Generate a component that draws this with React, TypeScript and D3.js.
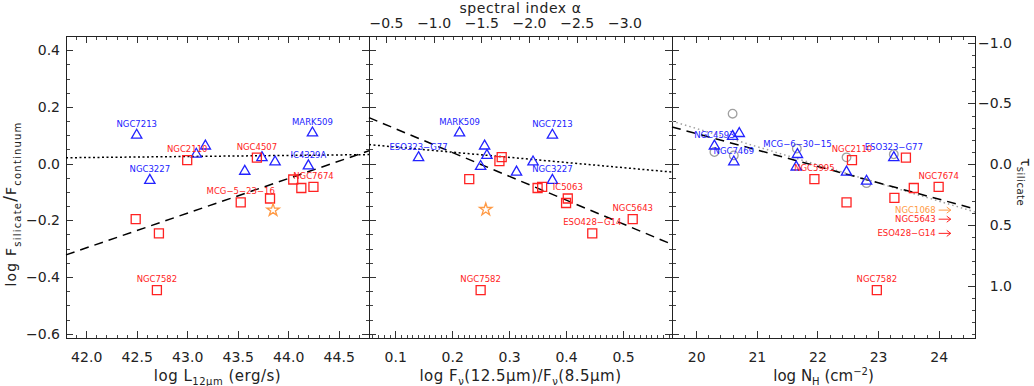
import React, { useRef, useEffect } from "react";
import * as d3 from "d3";

// tick labels
const fluxTicks = [-0.6, -0.4, -0.2, 0.0, 0.2, 0.4];
const tauTicks = [-1.0, -0.5, 0.0, 0.5, 1.0];
const lumTicks = [42.0, 42.5, 43.0, 43.5, 44.0, 44.5];
const ratioTicks = [0.1, 0.2, 0.3, 0.4, 0.5];
const alphaTicks = [-0.5, -1.0, -1.5, -2.0, -2.5, -3.0];
const nhTicks = [20, 21, 22, 23, 24];

type Pt = [number, number, string];

// panel 1: log L12um vs log Fsil/Fcont
const lumSy2: Pt[] = [
  [43.0, 0.012, "NGC2110"],
  [43.69, 0.021, "NGC4507"],
  [44.05, -0.056, ""],
  [44.13, -0.086, ""],
  [44.25, -0.082, "NGC7674"],
  [43.53, -0.137, "MCG-5-23-16"],
  [43.82, -0.123, ""],
  [42.49, -0.196, ""],
  [42.72, -0.246, ""],
  [42.7, -0.446, "NGC7582"],
];
const lumSy1: Pt[] = [
  [42.5, 0.1, "NGC7213"],
  [43.09, 0.033, ""],
  [43.18, 0.062, ""],
  [42.63, -0.059, "NGC3227"],
  [43.57, -0.027, ""],
  [43.74, 0.021, ""],
  [43.87, 0.006, ""],
  [44.24, 0.108, "MARK509"],
  [44.2, -0.008, "IC4329A"],
];
const lumStar: Pt[] = [[43.85, -0.164, ""]];
// fits: [intercept, slope]
const lumDashed = [-5.434, 0.1223];
const lumDotted = [-0.134, 0.0037];

// panel 2: log Fnu(12.5)/Fnu(8.5)
const ratioSy2: Pt[] = [
  [0.287, 0.023, ""],
  [0.283, 0.009, ""],
  [0.23, -0.055, ""],
  [0.35, -0.086, ""],
  [0.358, -0.082, ""],
  [0.403, -0.123, "IC5063"],
  [0.4, -0.139, ""],
  [0.517, -0.196, "NGC5643"],
  [0.446, -0.246, "ESO428-G14"],
  [0.25, -0.446, "NGC7582"],
];
const ratioSy1: Pt[] = [
  [0.213, 0.108, "MARK509"],
  [0.376, 0.1, "NGC7213"],
  [0.141, 0.021, "ESO323-G77"],
  [0.257, 0.062, ""],
  [0.261, 0.029, ""],
  [0.25, -0.01, ""],
  [0.313, -0.03, ""],
  [0.342, 0.006, ""],
  [0.376, -0.059, "NGC3227"],
];
const ratioStar: Pt[] = [[0.259, -0.162, ""]];
const ratioDashed = [0.2074, -0.84];
const ratioDotted = [0.0768, -0.182];

// panel 3: log NH
const nhSy2: Pt[] = [
  [22.57, 0.012, "NGC2110"],
  [23.46, 0.021, ""],
  [21.95, -0.055, "NGC5995"],
  [24.0, -0.082, "NGC7674"],
  [23.59, -0.086, ""],
  [23.27, -0.121, ""],
  [22.48, -0.137, ""],
  [22.98, -0.446, "NGC7582"],
];
const nhSy1: Pt[] = [
  [20.6, 0.096, ""],
  [20.71, 0.106, ""],
  [20.3, 0.062, "NGC4593"],
  [20.62, 0.006, "NGC7469"],
  [21.67, 0.032, "MCG-6-30-15"],
  [21.65, -0.012, ""],
  [22.48, -0.03, ""],
  [22.81, -0.062, ""],
  [23.26, 0.021, "ESO323-G77"],
];
const nhAlt: Pt[] = [
  [20.6, 0.176, ""],
  [20.3, 0.041, ""],
  [20.62, 0.029, ""],
  [21.66, 0.053, ""],
  [22.48, 0.022, ""],
  [23.26, 0.033, ""],
  [22.81, -0.069, ""],
];
// lower limits in NH: [name, x, y, kind]
const nhLimits: [string, number, number, string][] = [
  ["NGC1068", 24.0, -0.164, "star"],
  ["NGC5643", 24.0, -0.196, "sy2"],
  ["ESO428-G14", 24.0, -0.246, "sy2"],
];
const nhDashed = [1.262, -0.0578];
const nhDotted = [1.404, -0.064];

const RED = "#ff2222";
const BLUE = "#2222ff";
const ORANGE = "#ff9a45";
const GRAY = "#a0a0a0";
const INK = "#222";
const FONT = "DejaVu Sans";

export default function App() {
  const ref = useRef<SVGGElement>(null);

  useEffect(() => {
    const root = d3.select(ref.current);
    root.selectAll("*").remove();

    const top = 36, bottom = 338;
    const edges = [66, 369, 672, 975];
    const y = d3.scaleLinear().domain([-0.615, 0.45]).range([bottom, top]);
    const tau = d3.scaleLinear().domain([-1.055, 1.43]).range([top, bottom]);
    const xL = d3.scaleLinear().domain([41.8, 44.8]).range([edges[0], edges[1]]);
    const xR = d3.scaleLinear().domain([0.054, 0.586]).range([edges[1], edges[2]]);
    const kA = Math.log10(12.5 / 8.5);
    const xA = d3.scaleLinear().domain([-0.054 / kA, -0.586 / kA]).range([edges[1], edges[2]]);
    const xN = d3.scaleLinear().domain([19.6, 24.6]).range([edges[2], edges[3]]);

    const f1 = d3.format(".1f");
    const fd = d3.format("d");

    // ticks drawn inward, IDL style
    const axis = (gen: any, scale: any, majors: number[], minors: number[], tr: string, fmt: any, place?: (t: any) => void) => {
      const gm = root.append("g").attr("transform", tr)
        .call(gen(scale).tickValues(minors).tickSize(-3.5).tickSizeOuter(0).tickFormat(() => ""));
      gm.select(".domain").remove();
      gm.selectAll("line").attr("stroke", "#444").attr("shape-rendering", "crispEdges");
      const gM = root.append("g").attr("transform", tr)
        .call(gen(scale).tickValues(majors).tickSize(-7).tickSizeOuter(0).tickPadding(6).tickFormat(fmt || (() => "")));
      gM.select(".domain").remove();
      gM.selectAll("line").attr("stroke", "#333").attr("shape-rendering", "crispEdges");
      gM.attr("font-family", FONT).attr("font-size", 14);
      gM.selectAll("text").attr("fill", INK);
      if (place) place(gM.selectAll("text"));
    };

    const yMinor = y.ticks(21);
    const bottomText = (t: any) => t.attr("y", 24).attr("dy", 0);
    const topText = (t: any) => t.attr("y", -8).attr("dy", 0);

    // panel 1
    axis(d3.axisBottom, xL, lumTicks, xL.ticks(30), `translate(0,${bottom})`, f1, bottomText);
    axis(d3.axisTop, xL, lumTicks, xL.ticks(30), `translate(0,${top})`, null);
    axis(d3.axisLeft, y, fluxTicks, yMinor, `translate(${edges[0]},0)`, f1);
    axis(d3.axisRight, y, fluxTicks, yMinor, `translate(${edges[1]},0)`, null);
    // panel 2
    axis(d3.axisBottom, xR, ratioTicks, xR.ticks(53), `translate(0,${bottom})`, f1, bottomText);
    axis(d3.axisTop, xA, alphaTicks, xA.ticks(32), `translate(0,${top})`, f1, topText);
    axis(d3.axisLeft, y, fluxTicks, yMinor, `translate(${edges[1]},0)`, null);
    axis(d3.axisRight, y, fluxTicks, yMinor, `translate(${edges[2]},0)`, null);
    // panel 3
    axis(d3.axisBottom, xN, nhTicks, xN.ticks(25), `translate(0,${bottom})`, fd, bottomText);
    axis(d3.axisTop, xN, nhTicks, xN.ticks(25), `translate(0,${top})`, null);
    axis(d3.axisLeft, y, fluxTicks, yMinor, `translate(${edges[2]},0)`, null);
    axis(d3.axisRight, tau, tauTicks, tau.ticks(25), `translate(${edges[3]},0)`, f1,
      (t: any) => t.attr("x", 37).attr("text-anchor", "end"));

    // frames
    for (let i = 0; i < 3; i++) {
      root.append("rect")
        .attr("x", edges[i]).attr("y", top)
        .attr("width", edges[i + 1] - edges[i]).attr("height", bottom - top)
        .attr("fill", "none").attr("stroke", INK).attr("shape-rendering", "crispEdges");
    }

    // fit lines
    const fit = (sx: any, c: number[], dash: string, color: string, w: number) => {
      const [a, b] = sx.domain();
      const line = d3.line<number>().x((d) => sx(d)).y((d) => y(c[0] + c[1] * d));
      root.append("path").datum([a, b]).attr("d", line)
        .attr("fill", "none").attr("stroke", color).attr("stroke-width", w).attr("stroke-dasharray", dash);
    };
    fit(xL, lumDotted, "2,2.5", "#000", 1.5);
    fit(xL, lumDashed, "9,6", "#000", 1.5);
    fit(xR, ratioDotted, "2,2.5", "#000", 1.5);
    fit(xR, ratioDashed, "9,6", "#000", 1.5);
    fit(xN, nhDotted, "1.5,3", GRAY, 1.5);
    fit(xN, nhDashed, "9,6", "#000", 1.5);

    const sq = d3.symbol().type(d3.symbolSquare).size(81)();
    const tri = d3.symbol().type(d3.symbolTriangle).size(46)();
    const star = d3.symbol().type(d3.symbolStar).size(48)();
    const circ = d3.symbol().type(d3.symbolCircle).size(58)();

    const marks = (sx: any, data: Pt[], shape: any, color: string, labelColor: string) => {
      const g = root.append("g");
      g.selectAll("path").data(data).join("path")
        .attr("d", shape)
        .attr("transform", (d) => `translate(${sx(d[0])},${y(d[1])})`)
        .attr("fill", "none").attr("stroke", color).attr("stroke-width", 1.3);
      g.selectAll("text").data(data.filter((d) => d[2])).join("text")
        .attr("x", (d) => sx(d[0])).attr("y", (d) => y(d[1]) - 8)
        .attr("text-anchor", "middle").attr("font-family", FONT).attr("font-size", 8.5)
        .attr("fill", labelColor)
        .text((d) => d[2].replace(/-/g, "\u2212"));
    };

    marks(xN, nhAlt, circ, GRAY, GRAY);
    marks(xL, lumSy1, tri, BLUE, BLUE);
    marks(xL, lumSy2, sq, RED, RED);
    marks(xL, lumStar, star, ORANGE, ORANGE);
    marks(xR, ratioSy1, tri, BLUE, BLUE);
    marks(xR, ratioSy2, sq, RED, RED);
    marks(xR, ratioStar, star, ORANGE, ORANGE);
    marks(xN, nhSy1, tri, BLUE, BLUE);
    marks(xN, nhSy2, sq, RED, RED);

    // NH lower limits
    const lim = root.append("g");
    nhLimits.forEach(([name, nx, ny, kind]) => {
      const c = kind === "star" ? ORANGE : RED;
      const x0 = xN(nx), x1 = xN(nx + 0.2), yy = y(ny);
      lim.append("line").attr("x1", x0).attr("x2", x1).attr("y1", yy).attr("y2", yy)
        .attr("stroke", c).attr("stroke-width", 1);
      lim.append("path").attr("d", `M${x1 - 4},${yy - 3}L${x1},${yy}L${x1 - 4},${yy + 3}`)
        .attr("fill", "none").attr("stroke", c).attr("stroke-width", 1);
      lim.append("text").attr("x", x0 - 3).attr("y", yy + 3)
        .attr("text-anchor", "end").attr("font-family", FONT).attr("font-size", 8.5)
        .attr("fill", c).text(name.replace(/-/g, "\u2212"));
    });
  }, []);

  return (
    <svg width={1034} height={386} style={{ position: "absolute", left: 0, top: 0, background: "#fff" }}
      fontFamily={FONT} fill={INK}>
      <text x={520.5} y={13} textAnchor="middle" fontSize={14} letterSpacing={0.6}>spectral index α</text>
      <text x={217.5} y={381} textAnchor="middle" fontSize={15} letterSpacing={0.5}>
        log L<tspan fontSize={10} dy={4}>12μm</tspan><tspan dy={-4}>{"\u00a0(erg/s)"}</tspan>
      </text>
      <text x={520.5} y={381} textAnchor="middle" fontSize={15} letterSpacing={0.5}>
        log F<tspan fontSize={10} dy={4}>ν</tspan><tspan dy={-4}>(12.5μm)/F</tspan>
        <tspan fontSize={10} dy={4}>ν</tspan><tspan dy={-4}>(8.5μm)</tspan>
      </text>
      <text x={823.5} y={381} textAnchor="middle" fontSize={15}>
        log N<tspan fontSize={10} dy={4}>H</tspan><tspan dy={-4}>{"\u00a0(cm"}</tspan>
        <tspan fontSize={10} dy={-6}>−2</tspan><tspan dy={6}>)</tspan>
      </text>
      <text transform="translate(16,204) rotate(-90)" textAnchor="middle" fontSize={14} letterSpacing={1.2}>
        log F<tspan fontSize={10} dy={5}>silicate</tspan><tspan fontSize={17} dy={-5}>/</tspan>F
        <tspan fontSize={10} dy={5}>continuum</tspan>
      </text>
      <text transform="translate(1021,182) rotate(90)" textAnchor="middle" fontSize={14} letterSpacing={0.5}>
        τ<tspan fontSize={10} dy={4}>silicate</tspan>
      </text>
      <g ref={ref} />
    </svg>
  );
}
